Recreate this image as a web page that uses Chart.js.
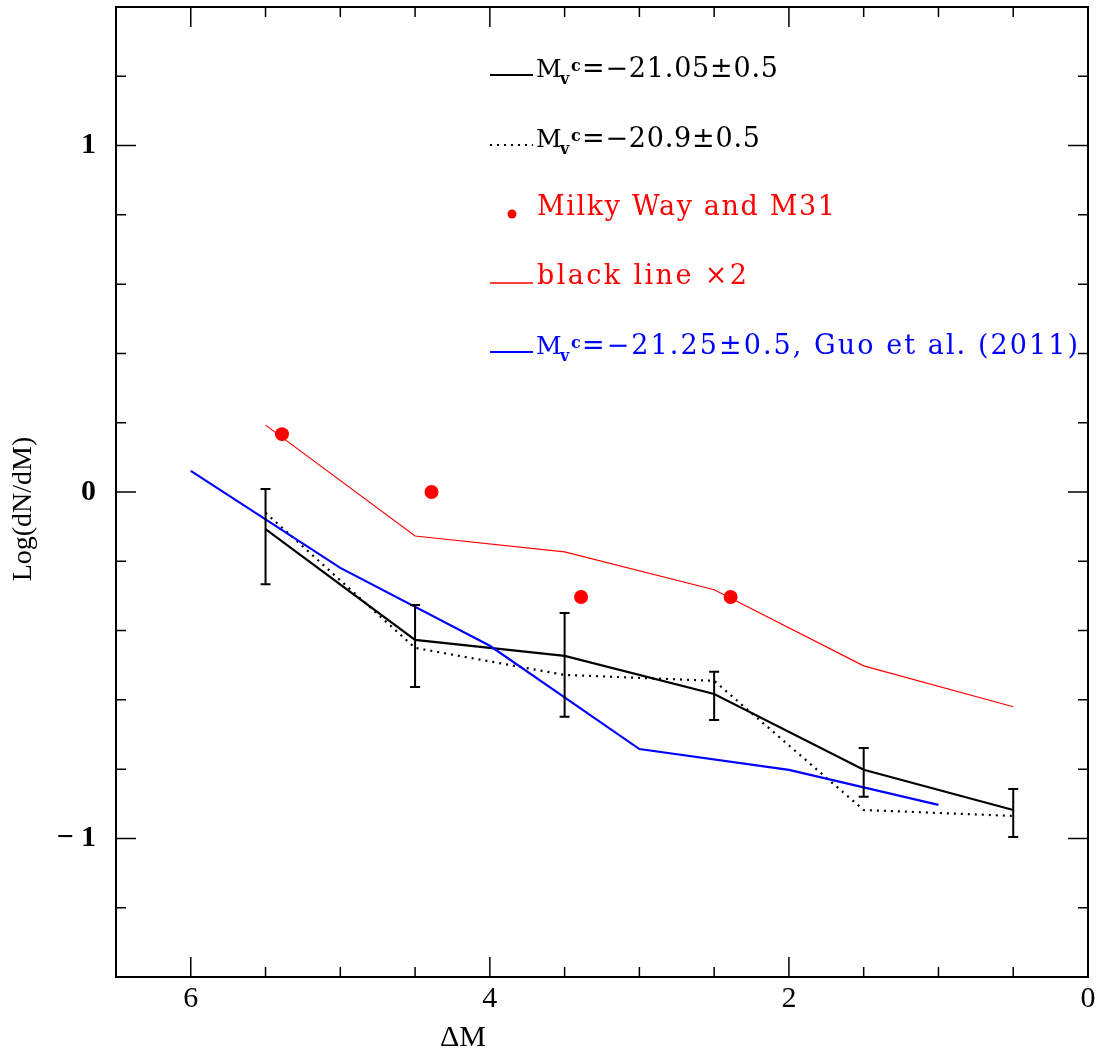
<!DOCTYPE html>
<html>
<head>
<meta charset="utf-8">
<script src="https://cdn.jsdelivr.net/npm/chart.js@4"></script>
<style>
  body { margin: 0; background: #fff; }
  canvas { display: block; }
</style>
</head>
<body>
<canvas id="lf" width="1103" height="1061"></canvas>
<script>
// magnitude gap bins
const dM = [5.5, 4.5, 3.5, 2.5, 1.5, 0.5];
const solidY = [-0.107, -0.427, -0.473, -0.583, -0.802, -0.918];
const errLow = [-0.266, -0.563, -0.649, -0.658, -0.880, -0.996];
const errHigh = [0.009, -0.326, -0.349, -0.519, -0.739, -0.857];
const dottedY = [-0.06, -0.45, -0.528, -0.545, -0.918, -0.935];
const redLineY = [0.193, -0.127, -0.173, -0.282, -0.502, -0.62];
// Milky Way and M31
const mwX = [5.39, 4.39, 3.39, 2.39];
const mwY = [0.167, 0, -0.303, -0.303];
// Guo et al. (2011)
const guoX = [6, 5, 4, 3, 2, 1];
const guoY = [0.061, -0.219, -0.444, -0.742, -0.802, -0.903];

const pts = (xs, ys) => xs.map((x, i) => ({ x: x, y: ys[i] }));

const FONT = '"Liberation Serif", "DejaVu Serif", serif';
const LFONT = '"DejaVu Serif", serif';

// draw text stretched so it ends at xEnd (the plot used a wide stroke font)
const fitText = (ctx, text, x, y, xEnd) => {
  ctx.letterSpacing = '0px';
  const w = ctx.measureText(text).width;
  const n = [...text].length;
  const ls = n > 1 ? (xEnd - x - w) / (n - 1) : 0;
  ctx.letterSpacing = ls + 'px';
  ctx.fillText(text, x, y);
  ctx.letterSpacing = '0px';
};

const frame = {
  id: 'frame',
  afterDatasetsDraw(chart) {
    const ctx = chart.ctx;
    const a = chart.chartArea;
    const xs = chart.scales.x, ys = chart.scales.y;
    ctx.save();

    // error bars on the solid line
    ctx.strokeStyle = '#000';
    ctx.lineWidth = 2;
    dM.forEach((x, i) => {
      const px = xs.getPixelForValue(x);
      const lo = ys.getPixelForValue(errLow[i]);
      const hi = ys.getPixelForValue(errHigh[i]);
      ctx.beginPath();
      ctx.moveTo(px, lo); ctx.lineTo(px, hi);
      ctx.moveTo(px - 5, lo); ctx.lineTo(px + 5, lo);
      ctx.moveTo(px - 5, hi); ctx.lineTo(px + 5, hi);
      ctx.stroke();
    });

    // box and inward ticks on all sides
    ctx.lineWidth = 2;
    ctx.strokeRect(a.left, a.top, a.right - a.left, a.bottom - a.top);
    ctx.lineWidth = 1.5;
    ctx.beginPath();
    xs.ticks.forEach(t => {
      const px = xs.getPixelForValue(t.value);
      const major = Math.abs(t.value / 2 - Math.round(t.value / 2)) < 1e-6;
      const len = major ? 20 : 10;
      ctx.moveTo(px, a.bottom); ctx.lineTo(px, a.bottom - len);
      ctx.moveTo(px, a.top); ctx.lineTo(px, a.top + len);
    });
    ys.ticks.forEach(t => {
      const py = ys.getPixelForValue(t.value);
      const major = Math.abs(t.value - Math.round(t.value)) < 1e-6;
      const len = major ? 20 : 10;
      ctx.moveTo(a.left, py); ctx.lineTo(a.left + len, py);
      ctx.moveTo(a.right, py); ctx.lineTo(a.right - len, py);
    });
    ctx.stroke();

    // axis titles
    ctx.fillStyle = '#000';
    ctx.font = '30px ' + FONT;
    ctx.textAlign = 'center';
    ctx.textBaseline = 'middle';
    ctx.fillText('\u0394M', 463, 1038);
    ctx.save();
    ctx.translate(24, 509);
    ctx.rotate(-Math.PI / 2);
    ctx.font = '28px ' + FONT;
    ctx.fillText('Log(dN/dM)', 0, 0);
    ctx.restore();

    // legend
    ctx.textAlign = 'left';
    ctx.textBaseline = 'alphabetic';
    const mLabel = (y, rest, xEnd, color) => {
      ctx.fillStyle = color;
      ctx.font = '25px ' + LFONT;
      ctx.fillText('M', 536, y);
      ctx.font = 'bold 16px ' + LFONT;
      ctx.fillText('v', 560, y + 7);
      ctx.fillText('c', 571, y - 6);
      ctx.font = '27px ' + LFONT;
      fitText(ctx, rest, 582, y, xEnd);
    };
    const sample = (y, color, dash, width) => {
      ctx.strokeStyle = color;
      ctx.lineWidth = width;
      ctx.setLineDash(dash);
      ctx.beginPath();
      ctx.moveTo(490, y); ctx.lineTo(533, y);
      ctx.stroke();
      ctx.setLineDash([]);
    };
    sample(75, '#000', [], 2);
    mLabel(77, '=\u221221.05\u00b10.5', 778, '#000');
    sample(145, '#000', [2, 5], 2);
    mLabel(147, '=\u221220.9\u00b10.5', 760, '#000');
    ctx.fillStyle = '#ff0000';
    ctx.beginPath();
    ctx.arc(512, 214, 4.5, 0, Math.PI * 2);
    ctx.fill();
    ctx.font = '27px ' + LFONT;
    fitText(ctx, 'Milky Way and M31', 537, 215, 835);
    sample(283, '#ff0000', [], 1.5);
    ctx.fillStyle = '#ff0000';
    fitText(ctx, 'black line \u00d72', 537, 284, 747);
    sample(352, '#0000ff', [], 2);
    mLabel(354, '=\u221221.25\u00b10.5, Guo et al. (2011)', 1078, '#0000ff');

    ctx.restore();
  }
};

const isWhole = (v, step) => Math.abs(v / step - Math.round(v / step)) < 1e-6;

new Chart(document.getElementById('lf'), {
  type: 'scatter',
  data: {
    datasets: [
      {
        label: 'black line x2',
        data: pts(dM, redLineY),
        showLine: true,
        borderColor: '#ff0000',
        borderWidth: 1.2,
        pointRadius: 0
      },
      {
        label: 'Guo et al. (2011)',
        data: pts(guoX, guoY),
        showLine: true,
        borderColor: '#0000ff',
        borderWidth: 2.2,
        pointRadius: 0
      },
      {
        label: 'dotted',
        data: pts(dM, dottedY),
        showLine: true,
        borderColor: '#000',
        borderWidth: 2.2,
        borderDash: [2, 5],
        pointRadius: 0
      },
      {
        label: 'solid',
        data: pts(dM, solidY),
        showLine: true,
        borderColor: '#000',
        borderWidth: 2.2,
        pointRadius: 0
      },
      {
        label: 'Milky Way and M31',
        data: pts(mwX, mwY),
        showLine: false,
        pointStyle: 'circle',
        pointRadius: 7,
        backgroundColor: '#ff0000',
        borderColor: '#ff0000',
        borderWidth: 0
      }
    ]
  },
  options: {
    responsive: false,
    animation: false,
    devicePixelRatio: 1,
    layout: { padding: { top: 5, right: 15, left: 0, bottom: 0 } },
    plugins: {
      legend: { display: false },
      tooltip: { enabled: false }
    },
    scales: {
      x: {
        type: 'linear',
        reverse: true,
        min: 0,
        max: 6.5,
        afterFit: s => { s.height = 84; s.paddingLeft = 0; s.paddingRight = 0; },
        grid: { display: false, drawTicks: false },
        border: { display: false },
        ticks: {
          stepSize: 0.5,
          autoSkip: false,
          maxRotation: 0,
          padding: 4,
          color: '#000',
          font: { family: FONT, size: 30 },
          callback: v => isWhole(v, 2) ? String(Math.round(v)) : ''
        }
      },
      y: {
        type: 'linear',
        min: -1.4,
        max: 1.4,
        afterFit: s => { s.width = 116; s.paddingTop = 0; s.paddingBottom = 0; },
        grid: { display: false, drawTicks: false },
        border: { display: false },
        ticks: {
          stepSize: 0.2,
          autoSkip: false,
          padding: 20,
          color: '#000',
          font: { family: FONT, size: 30, weight: 'bold' },
          callback: v => isWhole(v, 1) ? (Math.round(v) < 0 ? '\u2212 ' + Math.abs(Math.round(v)) : String(Math.round(v))) : ''
        }
      }
    }
  },
  plugins: [frame]
});
</script>
</body>
</html>
